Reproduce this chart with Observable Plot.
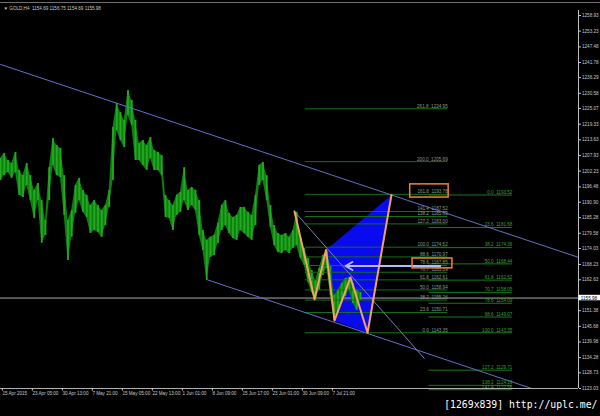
<!DOCTYPE html>
<html><head><meta charset="utf-8">
<script src="https://cdn.jsdelivr.net/npm/d3@7"></script>
<script src="https://cdn.jsdelivr.net/npm/@observablehq/plot@0.6"></script>
<style>
html,body{margin:0;padding:0;background:#000;}
#wrap{position:relative;width:600px;height:416px;overflow:hidden;background:#000;}
#wrap svg{position:absolute;left:0;top:0;}
#topbar{position:absolute;left:0;top:1.5px;width:600px;height:1.5px;background:#707070;z-index:2;}
</style></head><body>
<div id="wrap"><div id="topbar"></div></div>
<script>
const title = "▼ GOLD,H4  1154.69 1156.75 1154.69 1155.98";
const watermark = "[1269x839] http://uplc.me/";
const barStep = 4;
const hi = [
1206.8,1208.7,1206.1,1205.0,1209.0,1202.5,1200.6,1205.0,1200.6,1195.2,
1197.7,1191.5,1184.2,1203.5,1214.1,1211.6,1210.5,1200.6,1184.2,1187.9,
1197.0,1199.6,1195.2,1193.4,1189.7,1191.5,1189.7,1187.9,1189.7,1195.2,
1218.1,1226.9,1223.6,1220.7,1231.6,1228.0,1220.7,1212.3,1213.4,1211.6,
1214.5,1209.8,1209.0,1207.9,1193.4,1191.5,1189.7,1193.4,1194.5,1203.5,
1195.2,1196.3,1195.2,1191.5,1180.6,1177.0,1178.1,1178.8,1183.2,1189.7,
1191.5,1186.8,1185.3,1186.1,1189.0,1189.0,1187.2,1186.1,1193.4,1204.3,
1205.4,1200.6,1189.7,1182.4,1179.5,1178.8,1179.5,1178.1,1180.6,1187.2,
1177.7,1174.0,1170.4,1166.0,1162.4,1166.8,1171.5,1172.9,1167.9,1156.9,
1158.8,1161.3,1163.1,1163.5,1161.3,1158.8,1158.0];
const lo = [
1198.8,1200.6,1201.7,1199.6,1201.7,1193.4,1192.6,1197.0,1191.5,1185.0,
1191.5,1175.9,1178.8,1191.5,1204.3,1200.6,1199.9,1186.1,1169.7,1178.1,
1186.8,1191.5,1187.2,1185.3,1179.5,1180.6,1179.9,1178.1,1182.4,1189.0,
1198.8,1217.0,1213.4,1210.8,1222.5,1218.9,1206.1,1206.1,1204.3,1202.5,
1206.8,1202.5,1202.5,1200.6,1185.3,1185.0,1180.6,1186.1,1187.2,1191.5,
1187.9,1189.7,1187.9,1178.8,1173.3,1162.4,1170.8,1171.5,1175.9,1180.6,
1182.4,1179.5,1177.7,1177.0,1180.6,1179.5,1178.1,1177.0,1182.4,1197.0,
1198.8,1191.5,1181.7,1175.1,1172.6,1172.2,1173.3,1172.2,1174.0,1175.1,
1170.4,1167.9,1161.7,1158.0,1155.5,1158.8,1164.2,1166.8,1156.9,1147.8,
1150.7,1154.4,1156.6,1158.8,1154.0,1151.5,1155.1];

const yTicks = [1258.93,1253.23,1247.48,1241.78,1236.29,1230.58,1225.07,1219.33,1213.63,1207.93,1202.23,1196.48,1190.90,1185.28,1179.58,1174.03,1168.23,1162.63,1151.38,1145.68,1139.98,1134.28,1128.73,1123.03];
const xTickBars = [2,34,66,98,130,162,194,226,258,290,322,354];
const xTickLabels = ["15 Apr 2015","23 Apr 05:00","30 Apr 13:00","7 May 21:00","15 May 05:00","22 May 13:00","1 Jun 01:00","8 Jun 09:00","15 Jun 17:00","23 Jun 01:00","30 Jun 09:00","7 Jul 21:00"];
const xDomain = [0, 616.5];
const yDomain = [1123.03, 1260.75];
const currentPrice = 1155.98;

const upperBars = [0, 616.5];
const upperPrices = [1241.1, 1170.8];
const lowerBars = [221, 566];
const lowerPrices = [1162.6, 1123.1];
const steepBars = [313.6, 452];
const steepPrices = [1187.5, 1134.0];

const zzBars = [313.6, 335, 347.2, 356.3, 373.3, 391.5, 417];
const zzPrices = [1187.5, 1155.5, 1173.5, 1147.8, 1163.5, 1143.35, 1193.52];
const polyBars = [347.2, 356.3, 391.5, 417];
const polyPrices = [1173.5, 1147.8, 1143.35, 1193.52];

const fib1Levels = ["0.0","23.6","38.2","50.0","61.8","70.7","78.6","88.6","100.0","127.2","138.2","141.4","161.8","200.0","261.8"];
const fib1Prices = [1143.35,1150.71,1155.26,1158.94,1162.61,1165.39,1167.85,1170.97,1174.52,1183.00,1185.69,1187.52,1193.78,1205.69,1224.95];
const fib1Span = [325, 477];
const fib2Levels = ["0.0","23.6","38.2","50.0","61.8","70.7","78.6","88.6","100.0","127.2","138.2","141.4"];
const fib2Prices = [1193.52,1181.68,1174.36,1168.44,1162.52,1158.05,1154.09,1149.07,1143.35,1129.71,1124.19,1122.58];
const fib2Span = [457, 546];

const boxBars1 = [437, 478], boxPrices1 = [1192.6, 1197.4];
const boxBars2 = [439.5, 482], boxPrices2 = [1166.8, 1170.4];
const arrowBars = [469, 368];
const arrowPrice = 1167.66;
const priceBoxBars = [617, 640];

const candles = hi.map((h, i) => ({bar: i * barStep, hi: h, lo: lo[i]}));
const pts = (bs, ps) => bs.map((b, i) => ({bar: b, price: ps[i]}));
const fib1 = fib1Levels.map((l, i) => ({lvl: l, price: fib1Prices[i]}));
const fib2 = fib2Levels.map((l, i) => ({lvl: l, price: fib2Prices[i]}));
const labelMap = new Map(xTickBars.map((b, i) => [b, xTickLabels[i]]));
const nb = "\u00a0\u00a0";
const F = "Liberation Sans, DejaVu Sans, sans-serif";
const fs = 4.6;

const chart = Plot.plot({
  width: 600, height: 416,
  marginLeft: 0, marginRight: 22, marginTop: 10, marginBottom: 28,
  style: {background: "#000", color: "#c8c8c8", fontFamily: F},
  x: {domain: xDomain, axis: null},
  y: {domain: yDomain, axis: null},
  marks: [
    Plot.line(pts(polyBars, polyPrices), {x: "bar", y: "price", fill: "#0a0aee", stroke: "#0a0aee", strokeWidth: 0.5}),
    Plot.ruleY([currentPrice], {stroke: "#a8a8a8", strokeWidth: 1}),
    Plot.areaY(candles, {x: "bar", y1: "lo", y2: "hi", fill: "#0f800f"}),
    Plot.ruleX(candles, {x: "bar", y1: "lo", y2: "hi", stroke: "#22aa22", strokeWidth: 1.8}),
    Plot.ruleY(fib1, {y: "price", x1: fib1Span[0], x2: fib1Span[1], stroke: "#166f16", strokeWidth: 1}),
    Plot.ruleY(fib2, {y: "price", x1: fib2Span[0], x2: fib2Span[1], stroke: "#1a7a1a", strokeWidth: 1}),
    Plot.text(fib1, {x: fib1Span[1], y: "price", text: d => d.lvl + nb + d.price.toFixed(2), textAnchor: "end", dy: -2.6, fontSize: fs, fill: "#8c9a8c"}),
    Plot.text(fib2, {x: fib2Span[1], y: "price", text: d => d.lvl + nb + d.price.toFixed(2), textAnchor: "end", dy: -2.6, fontSize: fs, fill: "#2fa32f"}),
    Plot.line(pts(upperBars, upperPrices), {x: "bar", y: "price", stroke: "#6470c8", strokeWidth: 1}),
    Plot.line(pts(lowerBars, lowerPrices), {x: "bar", y: "price", stroke: "#6470c8", strokeWidth: 1}),
    Plot.line(pts(steepBars, steepPrices), {x: "bar", y: "price", stroke: "#7a80a8", strokeWidth: 1}),
    Plot.line(pts(zzBars, zzPrices), {x: "bar", y: "price", stroke: "#f4a25c", strokeWidth: 2}),
    Plot.arrow([0], {x1: arrowBars[0], x2: arrowBars[1], y1: arrowPrice, y2: arrowPrice, stroke: "#b8b8ff", strokeWidth: 2, headLength: 6}),
    Plot.rect([0], {x1: boxBars1[0], x2: boxBars1[1], y1: boxPrices1[0], y2: boxPrices1[1], fill: "none", stroke: "#ee8433", strokeWidth: 1.5}),
    Plot.rect([0], {x1: boxBars2[0], x2: boxBars2[1], y1: boxPrices2[0], y2: boxPrices2[1], fill: "none", stroke: "#ee8433", strokeWidth: 1.5}),
    Plot.ruleX([xDomain[1]], {stroke: "#c0c0c0", strokeWidth: 1}),
    Plot.ruleY([yDomain[0]], {stroke: "#b0b0b0", strokeWidth: 1}),
    Plot.axisY(yTicks, {anchor: "right", label: null, tickSize: 2, tickPadding: 1.5, tickFormat: d => d.toFixed(2), fontSize: fs, color: "#c8c8c8"}),
    Plot.axisX(xTickBars, {anchor: "bottom", label: null, tickSize: 2.5, tickPadding: 1, tickFormat: d => labelMap.get(d), textAnchor: "start", fontSize: fs, color: "#c8c8c8"}),
    Plot.rect([currentPrice], {x1: priceBoxBars[0], x2: priceBoxBars[1], y1: d => d - 1.0, y2: d => d + 1.0, fill: "#ffffff"}),
    Plot.text([currentPrice], {x: priceBoxBars[0] + 2, y: d => d, text: d => d.toFixed(2), textAnchor: "start", fontSize: fs, fill: "#000"}),
    Plot.text([title], {frameAnchor: "top-left", dx: 3, dy: -4, fontSize: fs, fill: "#c8c8c8", textAnchor: "start"}),
    Plot.text([watermark], {frameAnchor: "bottom-right", dx: 19, dy: 19, fontSize: 9.8, fontFamily: "DejaVu Sans Mono", fill: "#ffffff", textAnchor: "end"})
  ]
});
document.getElementById("wrap").appendChild(chart);
</script>
</body></html>
